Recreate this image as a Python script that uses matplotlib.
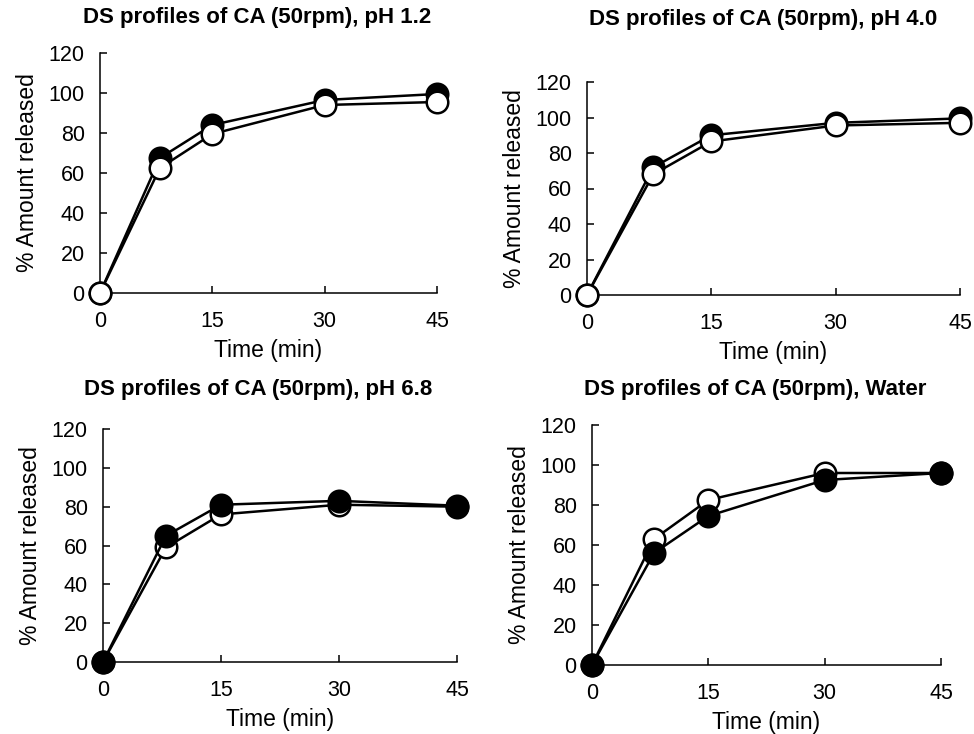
import matplotlib
matplotlib.use("Agg")
import matplotlib.pyplot as plt

plt.rcParams['font.family'] = ['Liberation Sans', 'DejaVu Sans']

time_min = [0, 8, 15, 30, 45]
x_ticks = [0, 15, 30, 45]
y_ticks = [0, 20, 40, 60, 80, 100, 120]

titles = [
    "DS profiles of CA (50rpm), pH 1.2",
    "DS profiles of CA (50rpm), pH 4.0",
    "DS profiles of CA (50rpm), pH 6.8",
    "DS profiles of CA (50rpm), Water",
]

filled_ph12 = [0, 67.5, 84, 96.5, 99.5]
open_ph12 = [0, 62.5, 79.5, 94, 95.5]
filled_ph40 = [0, 72, 90, 97, 99.5]
open_ph40 = [0, 68, 86.5, 95.5, 97]
filled_ph68 = [0, 65, 81, 83, 80.5]
open_ph68 = [0, 59, 76, 81, 80]
filled_water = [0, 56, 74.5, 92.5, 96]
open_water = [0, 63, 82.5, 96, 96]

filled_series = [filled_ph12, filled_ph40, filled_ph68, filled_water]
open_series = [open_ph12, open_ph40, open_ph68, open_water]
filled_on_top = [False, False, True, True]

W, H = 974, 734
# axes rectangles in pixel coords: left, right, y0 pixel, y120 pixel
rects_px = [
    (100, 437, 293, 53),
    (587, 960, 295, 82),
    (103, 457, 662, 429),
    (592, 941, 665, 425),
]
title_pos = [(257, 17), (763, 19), (258, 389), (755, 390)]

fig = plt.figure(figsize=(W / 100, H / 100), dpi=100)

for i in range(4):
    l, r, yb, yt = rects_px[i]
    ax = fig.add_axes([l / W, 1 - yb / H, (r - l) / W, (yb - yt) / H])
    ax.set_xlim(0, 45)
    ax.set_ylim(0, 120)
    ax.set_xticks(x_ticks)
    ax.set_yticks(y_ticks)
    for s in ['top', 'right']:
        ax.spines[s].set_visible(False)
    for s in ['left', 'bottom']:
        ax.spines[s].set_linewidth(1.1)
    ax.tick_params(direction='in', length=5, width=1.1, labelsize=15.5)
    ax.tick_params(axis='x', pad=13)
    ax.tick_params(axis='y', pad=11)
    ax.set_xlabel("Time (min)", fontsize=16.5, labelpad=5)
    ax.set_ylabel("% Amount released", fontsize=16.5, labelpad=7)

    kw = dict(marker='o', markersize=15.5, markeredgewidth=1.8, markeredgecolor='black',
              color='black', linewidth=1.8, clip_on=False)
    z_f = 4 if filled_on_top[i] else 3
    z_o = 3 if filled_on_top[i] else 4
    ax.plot(time_min, filled_series[i], markerfacecolor='black', zorder=z_f, **kw)
    ax.plot(time_min, open_series[i], markerfacecolor='white', zorder=z_o, **kw)

    tx, ty = title_pos[i]
    fig.text(tx / W, 1 - ty / H, titles[i], ha='center', va='center',
             fontsize=16, fontweight='bold')

fig.savefig("out.png", dpi=100)
